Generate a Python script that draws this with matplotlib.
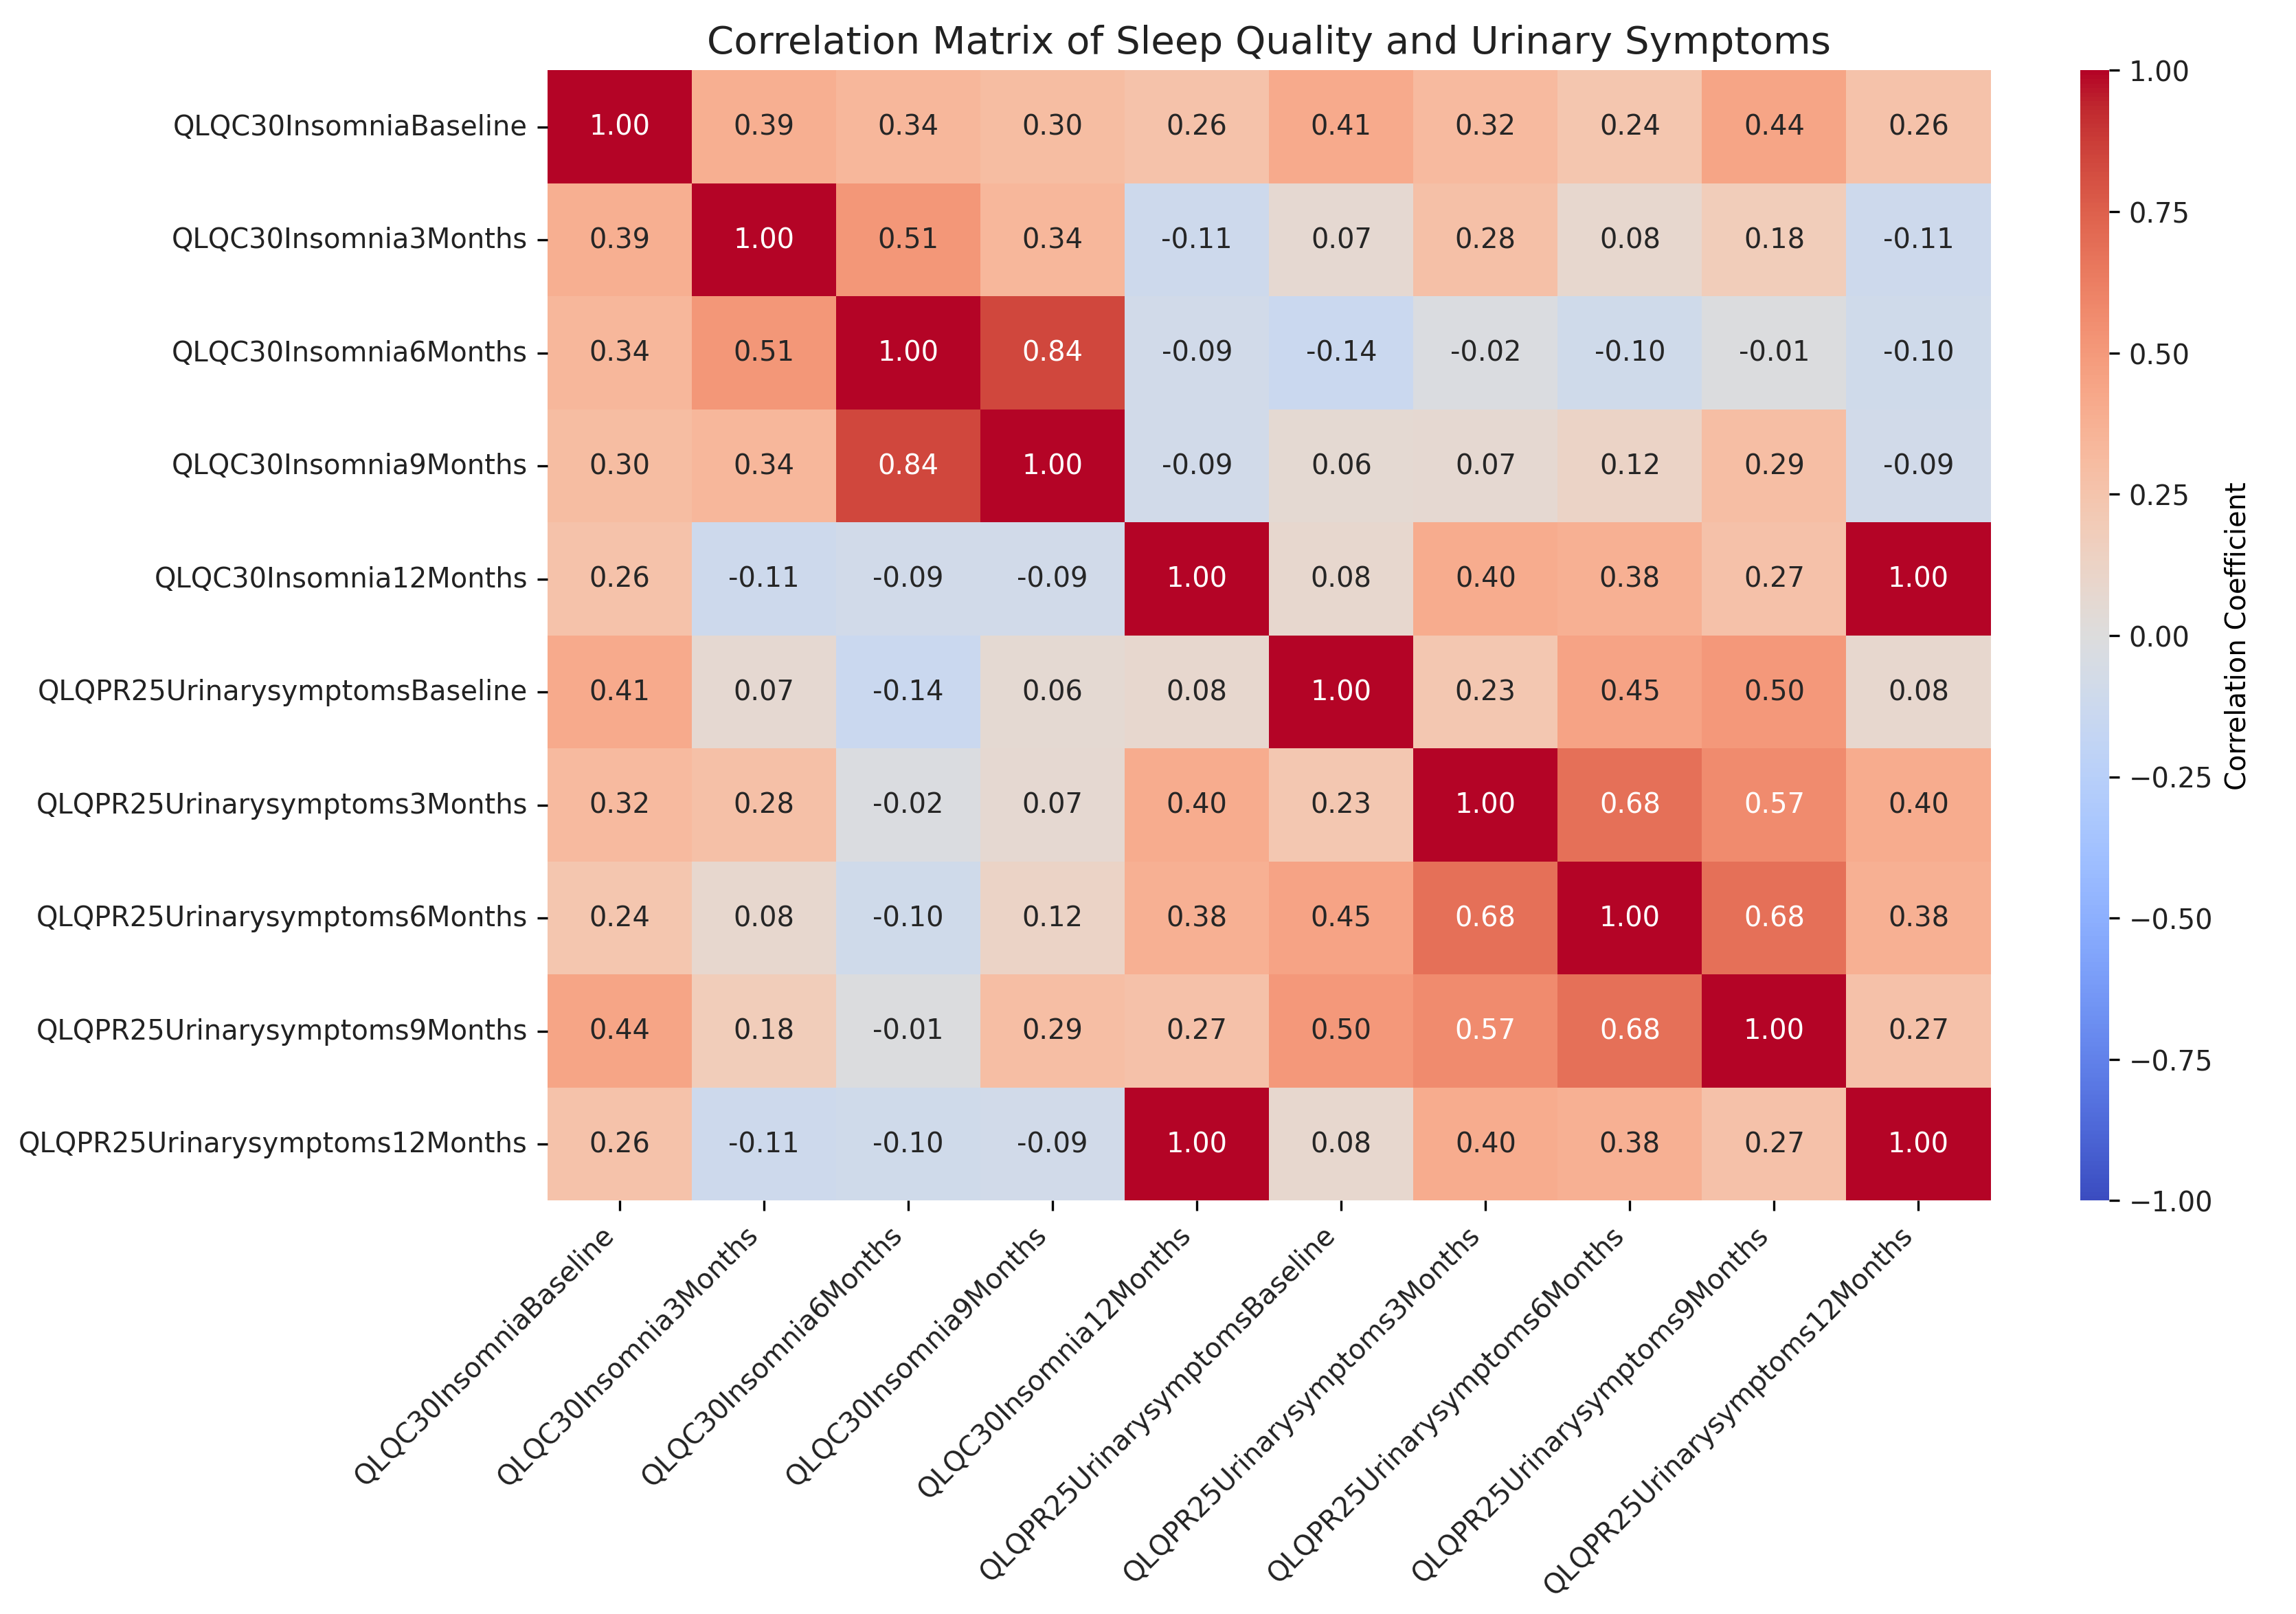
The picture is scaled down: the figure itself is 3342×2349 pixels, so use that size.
import matplotlib
matplotlib.use('Agg')
import matplotlib.pyplot as plt
import numpy as np
import pandas as pd
import seaborn as sns

labels = ['QLQC30InsomniaBaseline', 'QLQC30Insomnia3Months', 'QLQC30Insomnia6Months',
          'QLQC30Insomnia9Months', 'QLQC30Insomnia12Months',
          'QLQPR25UrinarysymptomsBaseline', 'QLQPR25Urinarysymptoms3Months',
          'QLQPR25Urinarysymptoms6Months', 'QLQPR25Urinarysymptoms9Months',
          'QLQPR25Urinarysymptoms12Months']

row0 = [1.00, 0.39, 0.34, 0.30, 0.26, 0.41, 0.32, 0.24, 0.44, 0.26]
row1 = [0.39, 1.00, 0.51, 0.34, -0.11, 0.07, 0.28, 0.08, 0.18, -0.11]
row2 = [0.34, 0.51, 1.00, 0.84, -0.09, -0.14, -0.02, -0.10, -0.01, -0.10]
row3 = [0.30, 0.34, 0.84, 1.00, -0.09, 0.06, 0.07, 0.12, 0.29, -0.09]
row4 = [0.26, -0.11, -0.09, -0.09, 1.00, 0.08, 0.40, 0.38, 0.27, 1.00]
row5 = [0.41, 0.07, -0.14, 0.06, 0.08, 1.00, 0.23, 0.45, 0.50, 0.08]
row6 = [0.32, 0.28, -0.02, 0.07, 0.40, 0.23, 1.00, 0.68, 0.57, 0.40]
row7 = [0.24, 0.08, -0.10, 0.12, 0.38, 0.45, 0.68, 1.00, 0.68, 0.38]
row8 = [0.44, 0.18, -0.01, 0.29, 0.27, 0.50, 0.57, 0.68, 1.00, 0.27]
row9 = [0.26, -0.11, -0.10, -0.09, 1.00, 0.08, 0.40, 0.38, 0.27, 1.00]

corr = pd.DataFrame([row0, row1, row2, row3, row4, row5, row6, row7, row8, row9],
                    index=labels, columns=labels)

plt.rcParams['font.size'] = 9.6
plt.rcParams['text.color'] = '#222222'
plt.rcParams['xtick.labelcolor'] = '#222222'
plt.rcParams['ytick.labelcolor'] = '#222222'

fig = plt.figure(figsize=(11.14, 7.833), dpi=300)
ax = fig.add_axes([0.2385, 0.256, 0.6285, 0.700])
cax = fig.add_axes([0.906, 0.256, 0.0125, 0.700])

sns.heatmap(corr, annot=True, fmt='.2f', cmap='coolwarm', vmin=-1, vmax=1,
            ax=ax, cbar_ax=cax, cbar_kws={'label': 'Correlation Coefficient'},
            annot_kws={'size': 9.6})

ax.set_title('Correlation Matrix of Sleep Quality and Urinary Symptoms', fontsize=13.5)
ax.set_xticklabels(ax.get_xticklabels(), rotation=45, ha='right')
ax.set_yticklabels(ax.get_yticklabels(), rotation=0)

plt.savefig('out.png', dpi=300)
